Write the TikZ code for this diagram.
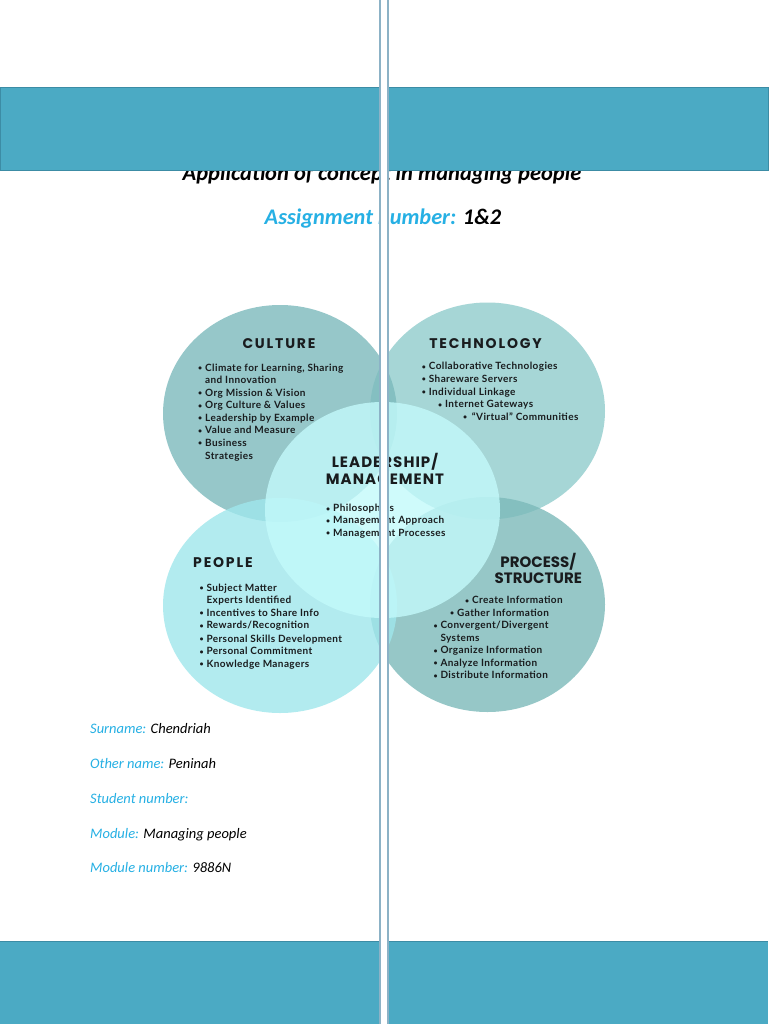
\documentclass[tikz,border=0pt]{standalone}
\usepackage{fontspec}
\setmainfont{Carlito}
\newfontfamily\myheadfont{Poppins}[LetterSpace=13]
\newfontfamily\myheadfontL{Poppins}[LetterSpace=7]
\newfontfamily\myheadfontB{Poppins}
\newfontfamily\mybodyfont{Lato}[LetterSpace=4]
\definecolor{band}{RGB}{75,170,196}
\definecolor{bandline}{RGB}{60,140,165}
\definecolor{barline}{RGB}{140,178,198}
\definecolor{cyanlbl}{RGB}{38,176,228}
\definecolor{ink}{RGB}{25,28,30}
\definecolor{culC}{RGB}{124,186,188}
\definecolor{tecC}{RGB}{144,204,204}
\definecolor{proC}{RGB}{124,186,186}
\definecolor{peoC}{RGB}{159,231,236}
\definecolor{leaC}{RGB}{195,250,251}
\newcommand\myitem{\mybodyfont\bfseries\fontsize{10}{11}\selectfont}
\newcommand\myhead{\myheadfont\bfseries\fontsize{14}{15}\selectfont}
\newcommand\myheadL{\myheadfontL\bfseries\fontsize{15}{17}\selectfont}
\newcommand\myheadB{\myheadfontB\bfseries\fontsize{15}{17}\selectfont}
\newcommand\bu{\makebox[7pt][l]{\fontsize{7}{7}\selectfont\raisebox{0.6pt}{•}}}
\begin{document}
\begin{tikzpicture}[x=1pt,y=-1pt,
  item/.style={anchor=base west, inner sep=0pt, font=\myitem, text=ink},
  head/.style={anchor=base, inner sep=0pt, font=\myhead, text=ink},
  headL/.style={anchor=base, inner sep=0pt, font=\myheadL, text=ink},
  headB/.style={anchor=base, inner sep=0pt, font=\myheadB, text=ink},
  info/.style={anchor=base west, inner sep=0pt, font=\itshape\fontsize{14.5}{16}\selectfont, text=black},
  big/.style={anchor=base, inner sep=0pt, font=\bfseries\itshape\fontsize{22.5}{24}\selectfont},
  disk/.style={fill opacity=.8}]
\useasboundingbox (0,0) rectangle (768,1024);
\fill[white] (0,0) rectangle (768,1024);
% title (partly hidden by band)
\node[big] (title) at (382,181) {Application of concept in managing people};
\fill[band, draw=bandline, line width=0.8pt] (0,87) rectangle (768,170);
\node[big, font=\bfseries\itshape\fontsize{22.3}{24}\selectfont] (assign) at (383,225) {\textcolor{cyanlbl}{Assignment number:} 1\&2};
% circles
\fill[tecC, disk] (487.5,411) ellipse [x radius=117.5pt, y radius=108.5pt];
\fill[proC, disk] (487.5,604.5) ellipse [x radius=117.5pt, y radius=107.5pt];
\fill[culC, disk] (280,413.5) ellipse [x radius=117pt, y radius=108.5pt];
\fill[peoC, disk] (280,605.5) ellipse [x radius=117pt, y radius=107.5pt];
\fill[leaC, fill opacity=.8] (382.5,510) ellipse [x radius=117.5pt, y radius=108pt];
% headings
\node[head] (hcul) at (279,348) {CULTURE};
\node[head] (htec) at (485.5,348) {TECHNOLOGY};
\node[head, anchor=base west] (hpeo) at (193,567) {PEOPLE};
\node[headL] (hlea1) at (385,467.5) {LEADERSHIP/};
\node[headL] (hlea2) at (385,484.2) {MANAGEMENT};
\node[headB] (hpro1) at (538.3,567.5) {PROCESS/};
\node[headB] (hpro2) at (538.3,583.5) {STRUCTURE};
% culture items
\foreach \x/\y/\t [count=\i] in {198/367.7/{\bu Climate for Learning, Sharing}, 205/380/{and Innovation}, 198/392.7/{\bu Org Mission \& Vision}, 198/405/{\bu Org Culture \& Values}, 198/417.7/{\bu Leadership by Example}, 198/430/{\bu Value and Measure}, 198/442.7/{\bu Business}, 205/455.7/{Strategies}}
  \node[item] (cul\i) at (\x,\y+3.6) {\t};
% technology items
\foreach \x/\y/\t [count=\i] in {421.7/366/{\bu Collaborative Technologies}, 421.7/378.7/{\bu Shareware Servers}, 421.7/391.7/{\bu Individual Linkage}, 438/404.3/{\bu Internet Gateways}, 463/416.7/{\bu\hspace{1.7pt}“Virtual” Communities}}
  \node[item] (tec\i) at (\x,\y+3.6) {\t};
% leadership items
\foreach \x/\y/\t [count=\i] in {326/508.3/{\bu Philosophies}, 326/520/{\bu Management Approach}, 326/532.7/{\bu Management Processes}}
  \node[item] (lea\i) at (\x,\y+3.6) {\t};
% people items
\foreach \x/\y/\t [count=\i] in {199.3/587.7/{\bu Subject Matter}, 206.3/600.3/{Experts Identified}, 199.3/612.7/{\bu Incentives to Share Info}, 199.3/625.3/{\bu Rewards/Recognition}, 199.3/638.7/{\bu Personal Skills Development}, 199.3/651/{\bu Personal Commitment}, 199.3/663.7/{\bu Knowledge Managers}}
  \node[item] (peo\i) at (\x,\y+3.6) {\t};
% process items
\foreach \x/\y/\t [count=\i] in {465/600/{\bu Create Information}, 450/612.7/{\bu Gather Information}, 433.3/625.3/{\bu Convergent/Divergent}, 440.3/637.7/{Systems}, 433.3/650.3/{\bu Organize Information}, 433.3/662.7/{\bu Analyze Information}, 433.3/675.3/{\bu Distribute Information}}
  \node[item] (pro\i) at (\x,\y+3.6) {\t};
% info lines
\node[info] (sur) at (90,733) {\textcolor{cyanlbl}{Surname:} Chendriah};
\node[info] (oth) at (90,768) {\textcolor{cyanlbl}{Other name:} Peninah};
\node[info] (stu) at (90,803) {\textcolor{cyanlbl}{Student number:}};
\node[info] (mod) at (90,838) {\textcolor{cyanlbl}{Module:} Managing people};
\node[info] (mnum) at (90,872) {\textcolor{cyanlbl}{Module number:} 9886N};
% bottom band
\fill[band] (0,940.5) rectangle (768,1024);
\draw[bandline, line width=1pt] (0,941) -- (768,941);
% vertical double bar
\fill[white] (380.5,0) rectangle (387,1024);
\draw[barline, line width=1.8pt] (380,0) -- (380,1024);
\draw[barline, line width=1.8pt] (387.6,0) -- (387.6,1024);
\end{tikzpicture}
\end{document}
